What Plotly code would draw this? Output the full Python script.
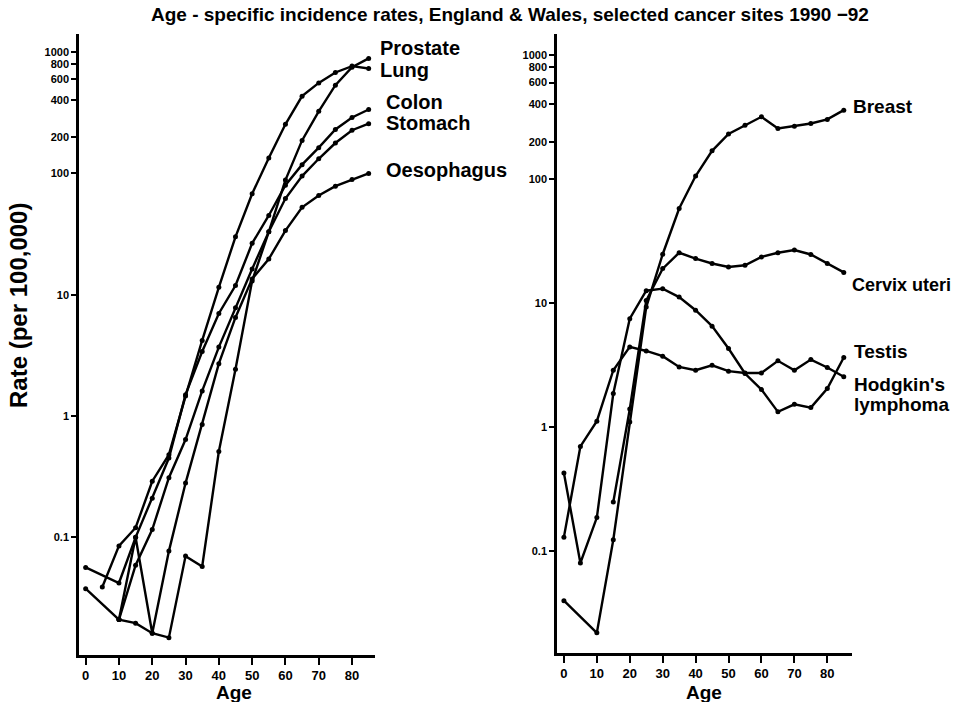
import plotly.graph_objects as go
from plotly.subplots import make_subplots

# Age groups (start of 5-year band)
ages = [0, 5, 10, 15, 20, 25, 30, 35, 40, 45, 50, 55, 60, 65, 70, 75, 80, 85]

# Rates per 100,000 (None where no point is plotted)
prostate = [0.0377, None, 0.021, 0.0196, 0.0162, 0.0149, 0.07, 0.0575, 0.51, 2.43,
            13, 33, 88, 187, 325, 534, 750, 887]
lung = [None, 0.039, 0.085, 0.12, 0.29, 0.48, 1.46, 4.2, 11.5, 30,
        68, 134, 254, 433, 557, 679, 766, 733]
colon = [0.0565, None, 0.042, 0.1, 0.21, 0.45, 1.5, 3.4, 7.0, 11.9,
         26.5, 45, 80, 118, 163, 230, 289, 336]
stomach = [None, None, 0.021, 0.059, 0.116, 0.31, 0.64, 1.61, 3.7, 7.8,
           16.3, 33, 62, 95, 132, 178, 227, 257]
oesophagus = [None, None, 0.021, 0.1, 0.0162, 0.077, 0.28, 0.85, 2.7, 6.5,
              13.5, 19.7, 33.8, 52.6, 65.8, 78.5, 89, 100]

breast = [0.04, None, 0.022, 0.124, 1.1, 9.3, 24.8, 58, 106, 169,
          231, 272, 318, 256, 267, 281, 303, 360]
cervix = [None, None, None, 0.25, 1.4, 10.5, 19, 25.5, 22.9, 20.9,
          19.6, 20.2, 23.6, 25.5, 26.8, 24.7, 20.9, 17.7]
testis = [0.428, 0.0805, 0.187, 1.87, 7.5, 12.6, 13.1, 11.2, 8.78, 6.53,
          4.31, 2.71, 2.01, 1.33, 1.53, 1.44, 2.05, 3.65]
hodgkin = [0.13, 0.7, 1.12, 2.88, 4.44, 4.12, 3.74, 3.06, 2.88, 3.16,
           2.83, 2.74, 2.74, 3.43, 2.88, 3.51, 3.03, 2.55]

left_series = [prostate, lung, colon, stomach, oesophagus]
right_series = [breast, cervix, testis, hodgkin]

y_tickvals = [0.1, 1, 10, 100, 200, 400, 600, 800, 1000]
y_ticktext = ["0.1", "1", "10", "100", "200", "400", "600", "800", "1000"]
x_tickvals = [0, 10, 20, 30, 40, 50, 60, 70, 80]

W, H = 959, 702
FONT = "Liberation Sans"

fig = make_subplots(rows=1, cols=2)

for s in left_series:
    fig.add_trace(go.Scatter(x=ages, y=s, mode="lines+markers", connectgaps=True,
                             line=dict(color="black", width=2.4),
                             marker=dict(color="black", size=5),
                             showlegend=False), row=1, col=1)
for s in right_series:
    fig.add_trace(go.Scatter(x=ages, y=s, mode="lines+markers", connectgaps=True,
                             line=dict(color="black", width=2.4),
                             marker=dict(color="black", size=5),
                             showlegend=False), row=1, col=2)

def px(x):
    return x / W

def py(y):
    return 1 - y / H

axis_common = dict(showgrid=False, zeroline=False, showline=True, linecolor="black",
                   linewidth=2.5, ticks="outside", tickcolor="black", tickwidth=2,
                   mirror=False)

fig.update_xaxes(**axis_common, tickvals=x_tickvals, ticklen=7, ticklabelstandoff=0,
                 tickfont=dict(family=FONT, size=13, color="black", weight="bold"))
fig.update_yaxes(**axis_common, type="log", tickvals=y_tickvals, ticktext=y_ticktext,
                 ticklen=5,
                 tickfont=dict(family=FONT, size=11, color="black", weight="bold"))

fig.update_layout(
    xaxis=dict(domain=[px(79), px(375)], range=[-2.0, 86.9]),
    xaxis2=dict(domain=[px(557), px(852)], range=[-2.1, 87.5]),
    yaxis=dict(domain=[py(655), py(34)], range=[-1.97, 3.149]),
    yaxis2=dict(domain=[py(653), py(34)], range=[-1.82, 3.17]),
)

annotations = []

def label(text, x, y, size=20, anchor="left", angle=0):
    annotations.append(dict(text=text, x=px(x), y=py(y), xref="paper", yref="paper",
                            xanchor=anchor, yanchor="middle", showarrow=False,
                            textangle=angle,
                            font=dict(family=FONT, size=size, color="black", weight="bold")))

# Title and axis titles
label("Age - specific incidence rates, England & Wales, selected cancer sites 1990 \u221292",
      510, 14, size=19, anchor="center")
label("Rate (per 100,000)", 18, 306, size=24, anchor="center", angle=-90)
label("Age", 234, 692, size=19, anchor="center")
label("Age", 704, 692, size=19, anchor="center")

# Series labels
label("Prostate", 378, 48)
label("Lung", 378, 70)
label("Colon", 384, 102)
label("Stomach", 384, 123)
label("Oesophagus", 384, 170)
label("Breast", 851, 107, size=19)
label("Cervix uteri", 850, 285, size=18)
label("Testis", 852, 351, size=19)
label("Hodgkin's", 852, 384, size=19)
label("lymphoma", 852, 404, size=19)

fig.update_layout(
    width=W, height=H,
    margin=dict(l=0, r=0, t=0, b=0),
    paper_bgcolor="white", plot_bgcolor="white",
    annotations=annotations,
    showlegend=False,
)

fig.write_html("out.html")
